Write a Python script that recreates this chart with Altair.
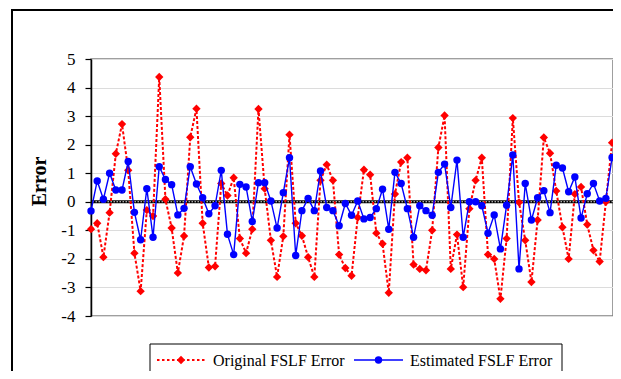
import altair as alt
import pandas as pd

series_names = ["Original FSLF Error", "Estimated FSLF Error"]
idx = list(range(1, 86))
original = [-0.96, -0.75, -1.94, -0.38, 1.68, 2.72, 1.10, -1.80, -3.13, -0.29,
            -0.50, 4.37, 0.09, -0.92, -2.49, -1.20, 2.26, 3.26, -0.75, -2.30,
            -2.26, 0.64, 0.22, 0.84, -1.29, -1.80, -0.96, 3.25, 0.46, -1.35,
            -2.63, -1.21, 2.35, -0.75, -1.19, -1.94, -2.63, 0.75, 1.30, 0.75,
            -1.85, -2.32, -2.59, -0.55, 1.12, 0.95, -1.10, -1.47, -3.19, 0.27,
            1.39, 1.54, -2.20, -2.35, -2.40, -1.00, 1.90, 3.02, -2.35, -1.15,
            -2.99, -0.24, 0.75, 1.54, -1.85, -2.00, -3.40, -1.29, 2.93, -0.02,
            -1.35, -2.81, -0.64, 2.25, 1.70, 0.38, -0.89, -2.00, 0.27, 0.52,
            -0.80, -1.70, -2.09, 0.00, 2.07]
estimated = [-0.32, 0.73, 0.09, 1.00, 0.41, 0.41, 1.41, -0.37, -1.33, 0.46,
             -1.24, 1.23, 0.78, 0.60, -0.46, -0.23, 1.23, 0.62, 0.14, -0.42,
             -0.14, 1.10, -1.14, -1.85, 0.61, 0.52, -0.69, 0.67, 0.67, 0.03,
             -0.92, 0.32, 1.54, -1.88, -0.31, 0.12, -0.31, 1.08, -0.20, -0.31,
             -0.84, -0.06, -0.47, 0.03, -0.60, -0.55, -0.24, 0.44, -0.96, 1.03,
             0.64, -0.24, -1.24, -0.14, -0.31, -0.47, 1.03, 1.32, -0.20, 1.46,
             -1.24, 0.00, 0.00, -0.14, -1.10, -0.46, -1.65, -0.12, 1.64, -2.35,
             0.64, -0.64, 0.14, 0.39, -0.38, 1.28, 1.18, 0.35, 0.87, -0.57,
             0.28, 0.64, 0.03, 0.12, 1.55]
y_ticks = [-4, -3, -2, -1, 0, 1, 2, 3, 4, 5]

df_o = pd.DataFrame({"idx": idx, "value": original, "series": series_names[0]})
df_e = pd.DataFrame({"idx": idx, "value": estimated, "series": series_names[1]})

SERIF = "Liberation Serif, Times New Roman, serif"
RED, BLUE = "#ff0000", "#0000ff"
xs = alt.Scale(domain=[1, 85.15], nice=False, zero=False)
ys = alt.Scale(domain=[-4, 5], nice=False, zero=False)

X = alt.X("idx:Q", scale=xs, axis=None)
Y = alt.Y("value:Q", scale=ys, axis=alt.Axis(
    values=y_ticks, labelExpr="'' + datum.value", tickSize=6, labelPadding=10,
    labelFont=SERIF, labelFontSize=17, labelColor="black", labelOverlap=False,
    domainColor="black", domainWidth=1.5, tickColor="black", tickWidth=1.2,
    grid=True, gridColor="#dcdcdc", gridWidth=1,
    title="Error", titleFont=SERIF, titleFontSize=20, titleFontWeight="bold",
    titleColor="black", titleAngle=270, titleX=-52, titleY=122,
    titleAlign="center", titleBaseline="middle"))

one = pd.DataFrame({"a": [0]})

frame = alt.Chart(one).mark_rect(
    fill="transparent", stroke="black", strokeWidth=2, clip=False
).encode(x=alt.value(-79), x2=alt.value(700), y=alt.value(-49), y2=alt.value(500))

zero_df = pd.DataFrame({"value": [0]})
zero_black = alt.Chart(zero_df).mark_rule(color="black", strokeWidth=3).encode(y=Y)
zero_white = alt.Chart(zero_df).mark_rule(color="#e8e8e8", strokeWidth=1, strokeDash=[1.5, 1.5]).encode(y=Y)

red_line = alt.Chart(df_o).mark_line(color=RED, strokeDash=[3, 2], strokeWidth=2).encode(x=X, y=Y)
red_pts = alt.Chart(df_o).mark_point(shape="diamond", filled=True, size=70, opacity=1, color=RED).encode(x=X, y=Y)
blue_line = alt.Chart(df_e).mark_line(color=BLUE, strokeWidth=1.4).encode(x=X, y=Y)
blue_pts = alt.Chart(df_e).mark_circle(size=55, opacity=1, color=BLUE).encode(x=X, y=Y)

# legend (drawn as marks)
LY = 301
leg_box = alt.Chart(one).mark_rect(fill="white", stroke="black", strokeWidth=1).encode(
    x=alt.value(59), x2=alt.value(471), y=alt.value(285), y2=alt.value(316))
leg_red_line = alt.Chart(one).mark_rule(color=RED, strokeWidth=2, strokeDash=[2.5, 2.5]).encode(
    x=alt.value(66), x2=alt.value(114), y=alt.value(LY))
leg_red_pt = alt.Chart(one).mark_point(shape="diamond", filled=True, size=70, opacity=1, color=RED).encode(
    x=alt.value(90), y=alt.value(LY))
leg_red_txt = alt.Chart(pd.DataFrame({"label": [series_names[0]]})).mark_text(
    align="left", baseline="middle", font=SERIF, fontSize=16, color="black").encode(
    x=alt.value(122), y=alt.value(LY + 1), text="label:N")
leg_blue_line = alt.Chart(one).mark_rule(color=BLUE, strokeWidth=1.4).encode(
    x=alt.value(263), x2=alt.value(312), y=alt.value(LY))
leg_blue_pt = alt.Chart(one).mark_circle(size=55, opacity=1, color=BLUE).encode(
    x=alt.value(287.5), y=alt.value(LY))
leg_blue_txt = alt.Chart(pd.DataFrame({"label": [series_names[1]]})).mark_text(
    align="left", baseline="middle", font=SERIF, fontSize=16, color="black").encode(
    x=alt.value(319), y=alt.value(LY + 1), text="label:N")

chart = alt.layer(frame, zero_black, zero_white, red_line, red_pts, blue_line, blue_pts,
                  leg_box, leg_red_line, leg_red_pt, leg_red_txt,
                  leg_blue_line, leg_blue_pt, leg_blue_txt).properties(
    width=522, height=257,
    autosize=alt.AutoSizeParams(type="none"),
    padding={"left": 83, "top": 51, "right": 0, "bottom": 55},
    background="white",
).configure_view(stroke="#808080", strokeWidth=1.5)

chart.save("out.html", embed_options={"renderer": "svg", "actions": False})
